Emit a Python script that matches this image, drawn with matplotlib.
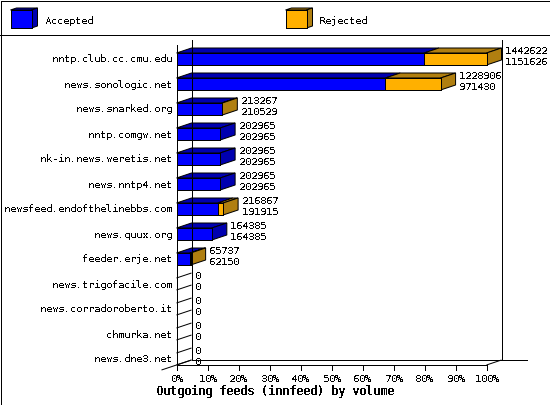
#!/usr/bin/env python3
"""Outgoing feeds bar chart, old-school 3D look."""

import matplotlib

matplotlib.use("Agg")

import matplotlib.pyplot as plt
import numpy as np

HOSTS = [
    "nntp.club.cc.cmu.edu",
    "news.sonologic.net",
    "news.snarked.org",
    "nntp.comgw.net",
    "nk-in.news.weretis.net",
    "news.nntp4.net",
    "newsfeed.endofthelinebbs.com",
    "news.quux.org",
    "feeder.erje.net",
    "news.trigofacile.com",
    "news.corradoroberto.it",
    "chmurka.net",
    "news.dne3.net",
]
OFFERED = [1442622, 1228906, 213267, 202965, 202965, 202965, 216867, 164385, 65737, 0, 0, 0, 0]
ACCEPTED = [1151626, 971430, 210529, 202965, 202965, 202965, 191915, 164385, 62150, 0, 0, 0, 0]
PCT_TICKS = [0, 10, 20, 30, 40, 50, 60, 70, 80, 90, 100]
TITLE = "Outgoing feeds (innfeed) by volume"

BLUE = "#0000ff"
BLUE_DARK = "#0000b0"
ORANGE = "#ffb000"
ORANGE_DARK = "#b07f10"
MONO = "DejaVu Sans Mono"

W, H = 550, 405
LEFT, RIGHT, TOP, BOTTOM = 176.5, 486.5, 40, 365
DEPTH_X_PX, DEPTH_Y_PX = 15, 5

plt.rcParams["text.antialiased"] = False
plt.rcParams["text.hinting"] = "native"
plt.rcParams["text.hinting_factor"] = 1
LW = 0.72  # one pixel at dpi 100

fig = plt.figure(figsize=(W / 100, H / 100), dpi=100, facecolor="white")

# page furniture in pixel coordinates
page = fig.add_axes([0, 0, 1, 1])
page.set_xlim(0, W)
page.set_ylim(H, 0)
page.axis("off")


def page_line(xs, ys):
    page.plot(xs, ys, color="black", lw=LW, antialiased=False, solid_capstyle="butt")


page_line([0.5, W - 0.5, W - 0.5, 0.5, 0.5], [0.5, 0.5, H - 0.5, H - 0.5, 0.5])
page_line([0, W], [35, 35])


def swatch(x, front, dark, label):
    y0, y1 = 10, 28
    x1 = x + 21
    page.fill([x, x1, x1 + 6, x + 6], [y0, y0, y0 - 2, y0 - 2], fc=dark, ec="black", lw=LW)
    page.fill([x1, x1 + 6, x1 + 6, x1], [y0, y0 - 2, y1 - 2, y1], fc=dark, ec="black", lw=LW)
    page.fill([x, x1, x1, x], [y0, y0, y1, y1], fc=front, ec="black", lw=LW, aa=False)
    page.text(x + 34, 21, label, family=MONO, fontsize=7.2, ha="left", va="center")


swatch(10.5, BLUE, BLUE_DARK, "Accepted")
swatch(285.5, ORANGE, ORANGE_DARK, "Rejected")

# title sits centred on the page, not on the plot
page.text(W / 2, 392, TITLE, family=MONO, fontsize=8.4, fontweight="bold", ha="center", va="center")

# plot axes sits on the front plane
ax = fig.add_axes([LEFT / W, 1 - BOTTOM / H, (RIGHT - LEFT) / W, (BOTTOM - TOP) / H])
ax.set_xlim(0, 100)
ax.set_ylim(len(HOSTS), 0)
ax.axis("off")

ddx = DEPTH_X_PX * 100 / (RIGHT - LEFT)
ddy = DEPTH_Y_PX * len(HOSTS) / (BOTTOM - TOP)
pct_acc = np.array(ACCEPTED) / max(OFFERED) * 100
pct_off = np.array(OFFERED) / max(OFFERED) * 100


def wire(xs, ys, aa=False):
    ax.plot(xs, ys, color="black", lw=LW, antialiased=aa, clip_on=False, solid_capstyle="butt")


# walls and floor
rows = len(HOSTS)
wire([0, 0], [rows, 0.2])
wire([ddx, ddx], [rows - ddy, 0])
wire([100 + ddx, 100 + ddx], [rows - ddy, 0])
wire([-ddx, 0, ddx], [rows + ddy, rows, rows - ddy], aa=True)
wire([0, 100], [rows, rows])
wire([100, 100 + ddx], [rows, rows - ddy], aa=True)
wire([ddx, 100 + ddx + 25 * 100 / (RIGHT - LEFT)], [rows - ddy, rows - ddy])

for i, (acc, off) in enumerate(zip(pct_acc, pct_off)):
    top = i + 13 / 25
    bot = i + 1.0
    if off == 0:
        wire([0, ddx], [top, top - ddy], aa=True)
        wire([0, ddx], [bot, bot - ddy], aa=True)
    else:
        side = BLUE_DARK if off == acc else ORANGE_DARK
        slab = dict(ec="black", lw=LW, clip_on=False)
        front = dict(ec="black", lw=LW, antialiased=False, clip_on=False)
        ax.fill([0, acc, acc + ddx, ddx], [top, top, top - ddy, top - ddy], fc=BLUE_DARK, **slab)
        if off > acc:
            ax.fill([acc, off, off + ddx, acc + ddx], [top, top, top - ddy, top - ddy], fc=ORANGE_DARK, **slab)
        ax.fill([off, off + ddx, off + ddx, off], [top, top - ddy, bot - ddy, bot], fc=side, **slab)
        ax.barh(i + 19 / 25, acc, height=12 / 25, color=BLUE, **front)
        if off > acc:
            ax.barh(i + 19 / 25, off - acc, left=acc, height=12 / 25, color=ORANGE, **front)
    xtext = off + ddx + 3.5 * 100 / (RIGHT - LEFT)
    ax.text(xtext, top - 0.08, str(OFFERED[i]), family=MONO, fontsize=7.2, ha="left", va="center")
    ax.text(xtext, top + 0.36, str(ACCEPTED[i]), family=MONO, fontsize=7.2, ha="left", va="center")
    ax.text(-4.4 * 100 / (RIGHT - LEFT), i + 0.78, HOSTS[i], family=MONO, fontsize=7.2, ha="right", va="center")

for pct in PCT_TICKS:
    wire([pct, pct], [rows, rows + 0.2])
    ax.text(pct, rows + 0.54, f"{pct}%", family=MONO, fontsize=7.2, ha="center", va="center")

fig.savefig("out.png", dpi=100, facecolor="white")
